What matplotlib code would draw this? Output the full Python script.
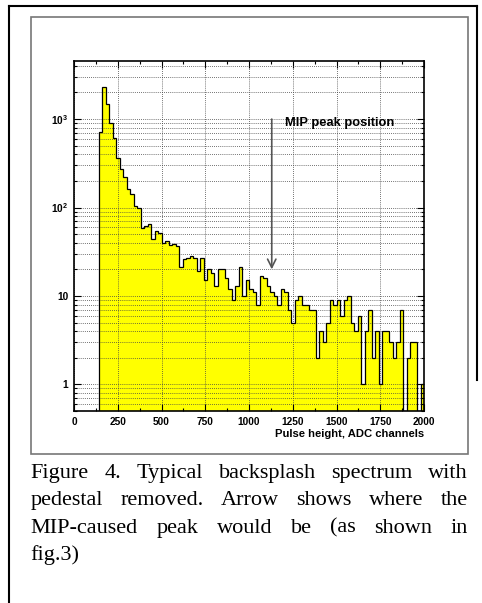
import numpy as np
import matplotlib.pyplot as plt
from matplotlib.lines import Line2D
from matplotlib.patches import Rectangle
from matplotlib.ticker import MultipleLocator, LogLocator, NullFormatter

plt.rcParams['font.family'] = 'Liberation Sans'
plt.rcParams['mathtext.fontset'] = 'custom'
plt.rcParams['mathtext.rm'] = 'Liberation Sans:bold'
plt.rcParams['mathtext.bf'] = 'Liberation Sans:bold'
plt.rcParams['mathtext.default'] = 'bf'

# backsplash spectrum, 20 ADC channel bins from 140 to 2000
bin_edges = np.arange(140, 2001, 20)
counts = [718, 2285, 1478, 908, 605, 360, 270, 222, 161, 142,
          104, 99, 58, 62, 65, 44, 54, 52, 40, 42,
          38, 39, 37, 21, 26, 27, 28, 27, 19, 27,
          15, 20, 18, 13, 20, 20, 16, 12, 9, 13,
          21, 10, 15, 12, 11, 8, 17, 16, 13, 11,
          10, 8, 12, 11, 7, 5, 9, 10, 8, 8,
          7, 7, 2, 4, 3, 5, 9, 8, 9, 6,
          9, 10, 5, 4, 6, 1, 4, 7, 2, 4,
          1, 4, 4, 3, 2, 3, 7, 0, 2, 3,
          3, 0, 1]

x_ticks = [0, 250, 500, 750, 1000, 1250, 1500, 1750, 2000]
y_ticks = [1, 10, 100, 1000]
y_labels = ['1', '10', r'$10^{2}$', r'$10^{3}$']

mip_x = 1130  # where the MIP peak would be

caption = ["Figure 4. Typical backsplash spectrum with",
           "pedestal removed. Arrow shows where the",
           "MIP-caused peak would be (as shown in",
           "fig.3)"]

W, H = 482, 603
fig = plt.figure(figsize=(W / 100, H / 100), dpi=100)

ax = fig.add_axes([74 / W, 1 - 411 / H, 350 / W, 350 / H])
ymin = 0.5
vals = np.clip(np.array(counts, dtype=float), ymin, None)
ax.stairs(vals, bin_edges, fill=True, color='#ffff00', baseline=ymin, zorder=1)
ax.stairs(vals, bin_edges, fill=False, color='black', lw=0.9, baseline=ymin, zorder=2)

ax.set_yscale('log')
ax.set_xlim(0, 2000)
ax.set_ylim(ymin, 4540)
ax.set_xticks(x_ticks)
ax.set_xticklabels([str(t) for t in x_ticks])
ax.xaxis.set_minor_locator(MultipleLocator(125))
ax.set_yticks(y_ticks)
ax.set_yticklabels(y_labels)
ax.yaxis.set_minor_locator(LogLocator(base=10, subs=np.arange(2, 10)))
ax.yaxis.set_minor_formatter(NullFormatter())

ax.tick_params(which='both', direction='in', top=True, right=True, width=0.8,
               labelsize=7.3, pad=4)
ax.tick_params(which='major', length=5)
ax.tick_params(which='minor', length=2.5)
for lab in ax.get_xticklabels() + ax.get_yticklabels():
    lab.set_fontweight('bold')

ax.grid(True, which='major', axis='x', color='#444444', lw=0.6, ls=(0, (1, 1.5)))
ax.grid(True, which='both', axis='y', color='#444444', lw=0.6, ls=(0, (1, 1.5)))
for s in ax.spines.values():
    s.set_linewidth(1.2)

ax.set_xlabel('Pulse height, ADC channels', loc='right', fontsize=8.1,
              fontweight='bold', labelpad=1.5)

ax.annotate('', xy=(mip_x, 20), xytext=(mip_x, 1000),
            arrowprops=dict(arrowstyle='->,head_length=0.6,head_width=0.3',
                            color='#555555', lw=1.2, shrinkA=0, shrinkB=0))
ax.text(1205, 900, 'MIP peak position', fontsize=9.3, fontweight='bold', va='center')

# frames
fig.add_artist(Rectangle((30.7 / W, 1 - 454 / H), (468 - 30.7) / W, (454 - 17.3) / H,
                         transform=fig.transFigure, fill=False, ec='#777777', lw=1.2))
fig.add_artist(Line2D([9 / W, 477 / W], [1 - 5.7 / H, 1 - 5.7 / H], color='black', lw=1.5))
fig.add_artist(Line2D([9 / W, 9 / W], [0, 1 - 5.7 / H], color='black', lw=1.5))
fig.add_artist(Line2D([477 / W, 477 / W], [1 - 380 / H, 1 - 5.7 / H], color='black', lw=1.5))

# justified caption
renderer = fig.canvas.get_renderer()
left, right = 30.7, 468
for i, line in enumerate(caption):
    y = 1 - (478 + 27.3 * i) / H
    words = line.split()
    texts = [fig.text(0, y, w, family='Liberation Serif', fontsize=16, va='baseline')
             for w in words]
    widths = [t.get_window_extent(renderer).width for t in texts]
    if i < len(caption) - 1 and len(words) > 1:
        gap = (right - left - sum(widths)) / (len(words) - 1)
    else:
        gap = 4.5
    x = left
    for t, w in zip(texts, widths):
        t.set_x(x / W)
        x += w + gap

fig.savefig('out.png', dpi=100)
